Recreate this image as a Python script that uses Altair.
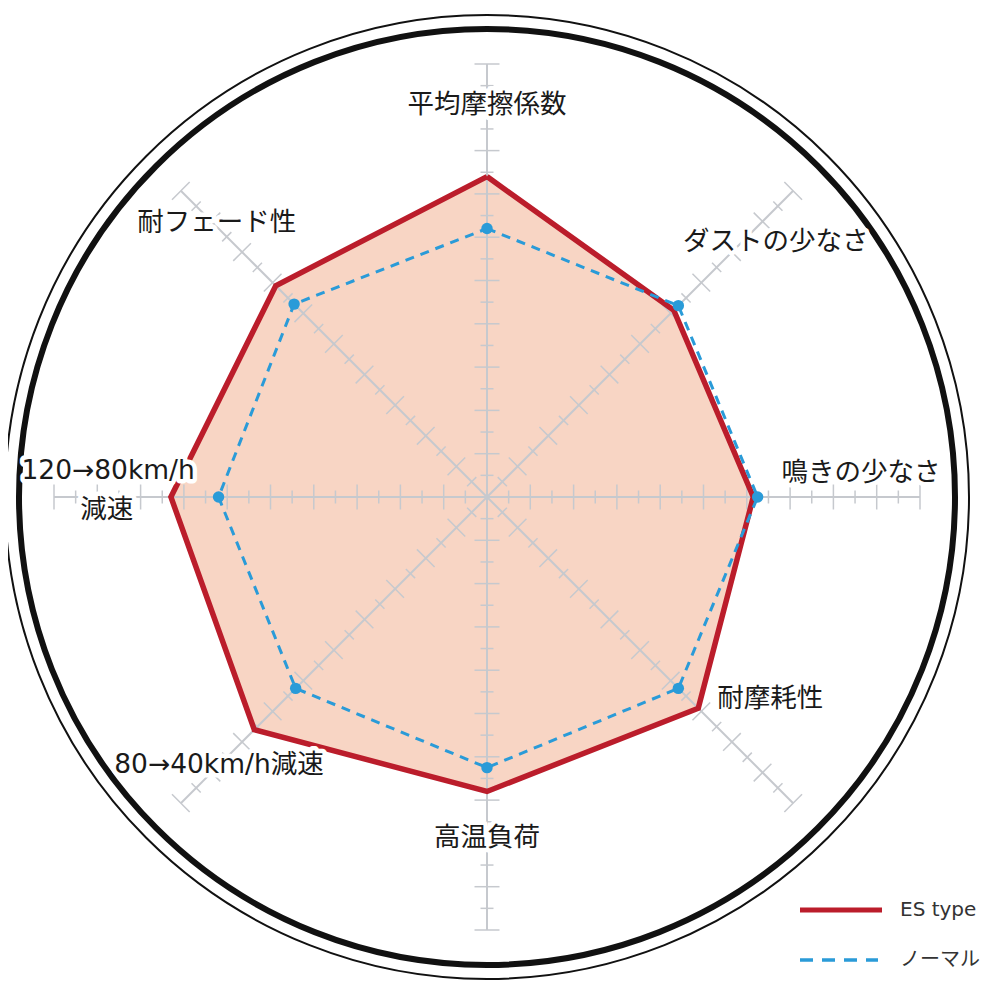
"""Radar chart: ES type vs ノーマル brake pad characteristics."""

import math

import altair as alt
import pandas as pd

# --- data -------------------------------------------------------------
axis_names = [
    "平均摩擦係数", "ダストの少なさ", "鳴きの少なさ", "耐摩耗性",
    "高温負荷", "80→40km/h減速", "120→80km/h減速", "耐フェード性",
]
axis_angles = [90, 45, 0, -45, -90, -135, 180, 135]
es_type = [7.4, 6.1, 6.15, 6.9, 6.8, 7.6, 7.3, 6.9]
normal = [6.2, 6.25, 6.25, 6.25, 6.25, 6.25, 6.2, 6.3]

label_text = [
    "平均摩擦係数", "ダストの少なさ", "鳴きの少なさ", "耐摩耗性", "高温負荷",
    "80→40km/h減速", "120→80km/h", "減速", "耐フェード性",
]
label_x = [0.0, 6.67, 8.64, 6.54, 0.0, -6.19, -8.75, -8.78, -6.24]
label_y = [9.05, 5.89, 0.55, -4.67, -7.88, -6.19, 0.60, -0.30, 6.33]

legend_names = ["ES type", "ノーマル"]

axis_max = 10
tick_step = 0.5

# --- layout -----------------------------------------------------------
W = H = 984
X0, Y0 = 479, 489  # centre of the radar in plot pixels
K = 43.3  # pixels per unit

RED = "#bb1d2b"
BLUE = "#2a9bd8"
FILL = "#f8d5c4"
GRID = "#c6c9ce"
FONT = "DejaVu Sans, Noto Sans CJK JP"

xs = alt.Scale(domain=[-X0 / K, (W - X0) / K], nice=False, zero=False)
ys = alt.Scale(domain=[-(H - Y0) / K, Y0 / K], nice=False, zero=False)


def enc(chart, x="x", y="y", **kw):
    return chart.encode(
        x=alt.X(f"{x}:Q", scale=xs, axis=None),
        y=alt.Y(f"{y}:Q", scale=ys, axis=None),
        **kw,
    )


# polygon rows, closed by repeating the first vertex
rows = []
for name, vals in zip(legend_names, (es_type, normal)):
    for i in range(len(axis_names) + 1):
        j = i % len(axis_names)
        a = math.radians(axis_angles[j])
        rows.append({"series": name, "i": i, "axis": axis_names[j],
                     "v": vals[j], "x": vals[j] * math.cos(a),
                     "y": vals[j] * math.sin(a)})
poly = pd.DataFrame(rows)
es_df = poly[poly.series == legend_names[0]]
nm_df = poly[poly.series == legend_names[1]]

# spokes and their tick marks
spokes = []
ticks = []
for ang in axis_angles:
    a = math.radians(ang)
    c, s = math.cos(a), math.sin(a)
    spokes.append({"x": 0, "y": 0, "x2": axis_max * c, "y2": axis_max * s})
    n = int(axis_max / tick_step)
    for k in range(1, n + 1):
        r = k * tick_step
        half = (12.5 if k % 2 == 0 else 6.5) / K
        px, py = r * c, r * s
        ticks.append({"x": px - half * s, "y": py + half * c,
                      "x2": px + half * s, "y2": py - half * c})
spoke_df = pd.DataFrame(spokes)
tick_df = pd.DataFrame(ticks)

labels_df = pd.DataFrame({"t": label_text, "x": label_x, "y": label_y})
centre_df = pd.DataFrame({"x": [0.0], "y": [0.0]})

# --- layers -----------------------------------------------------------
fill = enc(
    alt.Chart(es_df).mark_line(fill=FILL, stroke=FILL, strokeWidth=1),
    order="i:Q",
)

spoke_lines = enc(
    alt.Chart(spoke_df).mark_rule(color=GRID, strokeWidth=2),
    x2="x2:Q", y2="y2:Q",
)
tick_lines = enc(
    alt.Chart(tick_df).mark_rule(color=GRID, strokeWidth=1.5),
    x2="x2:Q", y2="y2:Q",
)

es_line = enc(
    alt.Chart(es_df).mark_line(color=RED, strokeWidth=5.5, strokeJoin="miter"),
    order="i:Q",
)
nm_line = enc(
    alt.Chart(nm_df).mark_line(color=BLUE, strokeWidth=3, strokeDash=[9, 7]),
    order="i:Q",
)
nm_points = enc(
    alt.Chart(nm_df[nm_df.i < len(axis_names)]).mark_circle(
        color=BLUE, size=130, opacity=1
    ),
    tooltip=["axis:N", "v:Q"],
)

ring_thick = enc(
    alt.Chart(centre_df).mark_point(
        shape="circle", filled=False, size=936 ** 2, color="#111",
        strokeWidth=6, opacity=1,
    )
)
ring_thin = enc(
    alt.Chart(centre_df).mark_point(
        shape="circle", filled=False, size=964 ** 2, color="#111",
        strokeWidth=2, opacity=1,
    )
)

halo = enc(
    alt.Chart(labels_df).mark_text(
        font=FONT, fontSize=26.5, stroke="white", strokeWidth=9,
        strokeJoin="round", color="white",
    ),
    text="t:N",
)
labels = enc(
    alt.Chart(labels_df).mark_text(font=FONT, fontSize=26.5, color="#1a1a1a"),
    text="t:N",
)

# hand-drawn legend in the bottom-right corner
legend_red = alt.Chart(centre_df).mark_rule(color=RED, strokeWidth=5).encode(
    x=alt.value(792), x2=alt.value(874), y=alt.value(902)
)
legend_blue = alt.Chart(centre_df).mark_rule(
    color=BLUE, strokeWidth=3.5, strokeDash=[13, 9]
).encode(x=alt.value(792), x2=alt.value(870), y=alt.value(952))
legend_text = alt.Chart(
    pd.DataFrame({"t": legend_names, "py": [902, 952]})
).mark_text(font=FONT, fontSize=20, color="#333", align="left").encode(
    x=alt.value(892), y=alt.Y("py:Q", scale=None), text="t:N"
)

chart = (
    alt.layer(
        ring_thin, ring_thick, fill, spoke_lines, tick_lines, es_line,
        nm_line, nm_points, halo, labels, legend_red, legend_blue,
        legend_text,
    )
    .properties(width=W, height=H, padding=0, autosize="none",
                background="white")
    .configure_view(stroke=None)
)

chart.save("out.html", embed_options={"renderer": "svg", "actions": False})
